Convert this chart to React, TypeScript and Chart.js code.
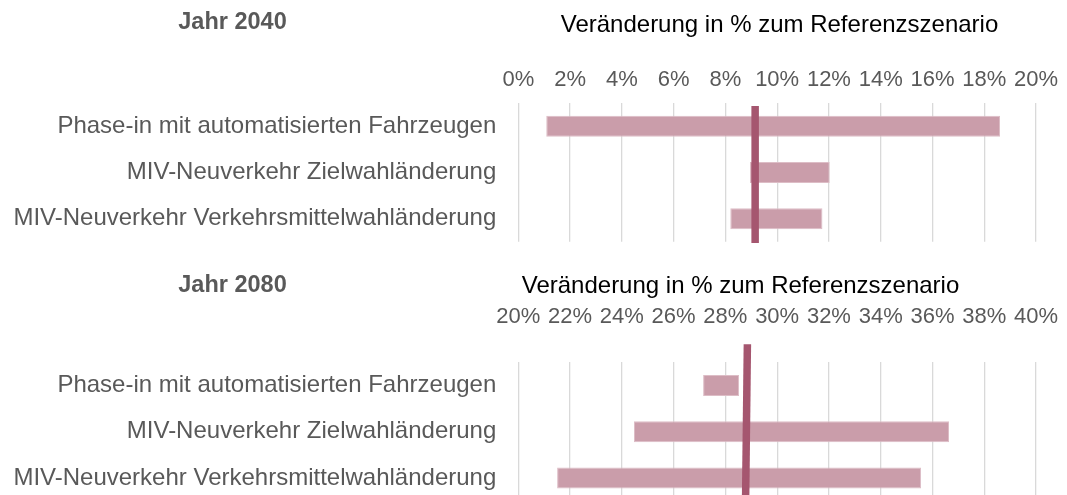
import React, { useEffect, useRef } from 'react';
import { Chart, registerables } from 'chart.js';

Chart.register(...registerables);

// ---------- data ----------
const categories = [
  'Phase-in mit automatisierten Fahrzeugen',
  'MIV-Neuverkehr Zielwahländerung',
  'MIV-Neuverkehr Verkehrsmittelwahländerung',
];
const ranges2040: [number, number][] = [
  [1.08, 18.61],
  [8.95, 12.03],
  [8.19, 11.75],
];
const ranges2080: [number, number][] = [
  [27.14, 28.53],
  [24.47, 36.64],
  [21.5, 35.56],
];
// reference value (vertical marker), x = % change, y = relative height
const reference2040 = [
  { x: 9.15, y: 0.98 },
  { x: 9.15, y: -0.01 },
];
const reference2080 = [
  { x: 28.85, y: 1.13 },
  { x: 28.78, y: 0 },
];
const ticks2040 = [0, 2, 4, 6, 8, 10, 12, 14, 16, 18, 20];
const ticks2080 = [20, 22, 24, 26, 28, 30, 32, 34, 36, 38, 40];
const panelTitle2040 = 'Jahr 2040';
const panelTitle2080 = 'Jahr 2080';
const axisTitle = 'Veränderung in % zum Referenzszenario';

// ---------- styles ----------
const FONT = '"Liberation Sans", Arial, Helvetica, sans-serif';
const GREY = '#595959';
const BAR = '#CA9DAA';
const BAR_EDGE = '#DDBDC6';
const MARKER = '#A5566F';
const GRID = '#D9D9D9';

type TextItem = { text: string; x: number; y: number; font: string; color: string };

function makeTextPlugin(items: TextItem[]) {
  return {
    id: 'panelText',
    afterDraw(chart: any) {
      const ctx = chart.ctx;
      for (const t of items) {
        ctx.save();
        ctx.font = t.font;
        ctx.fillStyle = t.color;
        ctx.textAlign = 'center';
        ctx.textBaseline = 'alphabetic';
        ctx.fillText(t.text, t.x, t.y);
        ctx.restore();
      }
    },
  };
}

type PanelProps = {
  top: number;
  height: number;
  ranges: [number, number][];
  reference: { x: number; y: number }[];
  ticks: number[];
  axisHeight: number;
  tickPad: number;
  padBottom: number;
  texts: TextItem[];
};

function Panel(p: PanelProps) {
  const ref = useRef<HTMLCanvasElement | null>(null);
  useEffect(() => {
    if (!ref.current) return;
    const chart = new Chart(ref.current, {
      type: 'bar',
      data: {
        labels: categories,
        datasets: [
          {
            type: 'line',
            data: p.reference,
            xAxisID: 'x',
            yAxisID: 'y2',
            borderColor: MARKER,
            borderWidth: 7.5,
            borderCapStyle: 'butt',
            pointRadius: 0,
            fill: false,
            clip: false,
            order: 0,
          } as any,
          {
            type: 'bar',
            data: p.ranges as any,
            xAxisID: 'x',
            yAxisID: 'y',
            backgroundColor: BAR,
            borderColor: BAR_EDGE,
            borderWidth: 1,
            borderSkipped: false,
            grouped: false,
            barPercentage: 0.455,
            categoryPercentage: 1,
            order: 1,
          } as any,
        ],
      },
      options: {
        animation: false,
        responsive: false,
        devicePixelRatio: 1,
        indexAxis: 'y',
        layout: { padding: { left: 0, right: 31, top: 0, bottom: p.padBottom } },
        plugins: {
          legend: { display: false },
          tooltip: { enabled: false },
          title: { display: false },
        },
        scales: {
          x: {
            type: 'linear',
            position: 'top',
            min: p.ticks[0],
            max: p.ticks[p.ticks.length - 1],
            afterBuildTicks: (s: any) => {
              s.ticks = p.ticks.map((v) => ({ value: v }));
            },
            afterFit: (s: any) => {
              s.height = p.axisHeight;
              s.paddingLeft = 0;
              s.paddingRight = 0;
              s.paddingTop = 0;
              s.paddingBottom = 0;
            },
            ticks: {
              autoSkip: false,
              maxRotation: 0,
              minRotation: 0,
              padding: p.tickPad,
              color: GREY,
              font: { family: FONT, size: 22 },
              callback: (v: any) => `${v}%`,
            },
            grid: { color: GRID, lineWidth: 1.3, drawTicks: false },
            border: { display: false },
          },
          y: {
            type: 'category',
            position: 'left',
            afterFit: (s: any) => {
              s.width = 518.3;
              s.paddingLeft = 0;
              s.paddingRight = 0;
              s.paddingTop = 0;
              s.paddingBottom = 0;
            },
            ticks: {
              padding: 22,
              color: GREY,
              font: { family: FONT, size: 24 },
            },
            grid: { display: false, drawTicks: false },
            border: { display: false },
          },
          y2: {
            type: 'linear',
            display: false,
            offset: false,
            min: 0,
            max: 1,
          },
        },
      } as any,
      plugins: [makeTextPlugin(p.texts)],
    });
    return () => chart.destroy();
  }, []);
  return (
    <canvas
      ref={ref}
      width={1067}
      height={p.height}
      style={{ position: 'absolute', left: 0, top: p.top, width: 1067, height: p.height }}
    />
  );
}

export default function App() {
  return (
    <div
      style={{
        position: 'fixed',
        left: 0,
        top: 0,
        width: 1067,
        height: 495,
        overflow: 'hidden',
        background: '#ffffff',
      }}
    >
      <Panel
        top={0}
        height={250}
        ranges={ranges2040}
        reference={reference2040}
        ticks={ticks2040}
        axisHeight={103.3}
        tickPad={10}
        padBottom={8.3}
        texts={[
          { text: panelTitle2040, x: 232.5, y: 29.3, font: `bold 23.5px ${FONT}`, color: GREY },
          { text: axisTitle, x: 779.5, y: 32.3, font: `24px ${FONT}`, color: '#000000' },
        ]}
      />
      <Panel
        top={250}
        height={255}
        ranges={ranges2080}
        reference={reference2080}
        ticks={ticks2080}
        axisHeight={112.3}
        tickPad={32.4}
        padBottom={3.8}
        texts={[
          { text: panelTitle2080, x: 232.5, y: 41.7, font: `bold 23.5px ${FONT}`, color: GREY },
          { text: axisTitle, x: 740.5, y: 43.3, font: `24px ${FONT}`, color: '#000000' },
        ]}
      />
    </div>
  );
}
